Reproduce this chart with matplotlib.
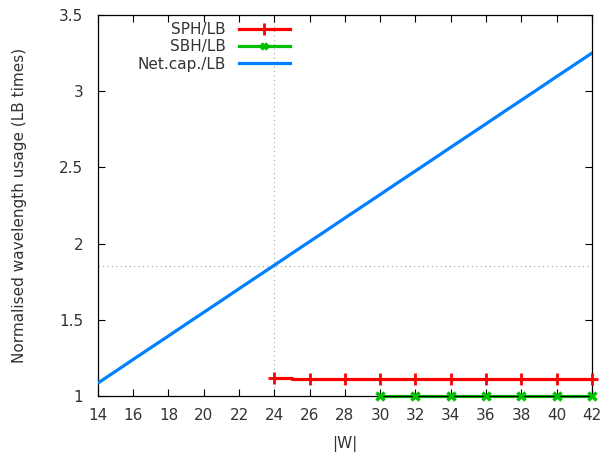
import numpy as np
import matplotlib
matplotlib.use("Agg")
import matplotlib.pyplot as plt
from matplotlib.lines import Line2D

# |W| values and ratios
net_x = list(range(14, 43))
net_y = [1.085, 1.162, 1.240, 1.317, 1.394, 1.472, 1.549, 1.626, 1.704, 1.781,
         1.858, 1.936, 2.013, 2.090, 2.168, 2.245, 2.322, 2.400, 2.477, 2.554,
         2.632, 2.709, 2.786, 2.864, 2.941, 3.018, 3.096, 3.173, 3.250]

sph_x = [24, 25, 25, 26, 27, 28, 29, 30, 31, 32, 33, 34, 35, 36, 37, 38, 39, 40, 41, 42]
sph_y = [1.118, 1.118, 1.110, 1.110, 1.110, 1.110, 1.110, 1.110, 1.110, 1.110,
         1.110, 1.110, 1.110, 1.110, 1.110, 1.110, 1.110, 1.110, 1.110, 1.110]
sph_mx = [24, 26, 28, 30, 32, 34, 36, 38, 40, 42]
sph_my = [1.118, 1.110, 1.110, 1.110, 1.110, 1.110, 1.110, 1.110, 1.110, 1.110]

sbh_x = [30, 32, 34, 36, 38, 40, 42]
sbh_y = [1.0, 1.0, 1.0, 1.0, 1.0, 1.0, 1.0]

ref_x = 24
ref_y = 1.853

xticks = list(range(14, 43, 2))
yticks = [1, 1.5, 2, 2.5, 3, 3.5]

red = "#ff0000"
green = "#00c000"
blue = "#0080ff"
txt = "#333333"

plt.rcParams['font.family'] = ['DejaVu Sans']
fig = plt.figure(figsize=(6.12, 4.57), dpi=100)
ax = fig.add_axes([0.160, 0.1335, 0.807, 0.8335])

ax.axvline(ref_x, color="#a0a0a0", linestyle=(0, (1, 3)), linewidth=0.8, zorder=1)
ax.axhline(ref_y, color="#a0a0a0", linestyle=(0, (1, 3)), linewidth=0.8, zorder=1)

ax.plot(sph_x, sph_y, color=red, linewidth=2.3, zorder=3, clip_on=False)
ax.plot(sph_mx, sph_my, linestyle="none", marker="+", markersize=9,
        markeredgewidth=2, color=red, zorder=4, clip_on=False)
ax.plot(sbh_x, sbh_y, color=green, linewidth=2.3, zorder=2, clip_on=False)
ax.plot(sbh_x, sbh_y, linestyle="none", marker="x", markersize=6,
        markeredgewidth=2.5, color=green, zorder=4, clip_on=False)
ax.plot(net_x, net_y, color=blue, linewidth=2.3, zorder=3)

ax.set_xlim(14, 42)
ax.set_ylim(1, 3.5)
ax.set_xticks(xticks)
ax.set_yticks(yticks)
ax.set_yticklabels(["1", "1.5", "2", "2.5", "3", "3.5"])
ax.tick_params(direction="in", top=True, right=True, length=5, width=0.8,
               labelsize=11, colors="black")
ax.tick_params(axis="y", pad=10.5)
ax.tick_params(axis="x", pad=9)
for lab in ax.get_xticklabels() + ax.get_yticklabels():
    lab.set_color(txt)
for s in ax.spines.values():
    s.set_linewidth(0.9)

ax.set_xlabel("|W|", fontsize=11, color=txt, labelpad=9)
ax.set_ylabel("Normalised wavelength usage (LB times)", fontsize=11,
              color=txt, labelpad=23)

handles = [
    Line2D([], [], color=red, linewidth=2.3, marker="+", markersize=8, markeredgewidth=2),
    Line2D([], [], color=green, linewidth=2.3, marker="x", markersize=5, markeredgewidth=2.5),
    Line2D([], [], color=blue, linewidth=2.3),
]
leg = ax.legend(handles, ["SPH/LB", "SBH/LB", "Net.cap./LB"], loc="upper right",
                bbox_to_anchor=(290 / 612, (457 - 22) / 457),
                bbox_transform=fig.transFigure, borderpad=0, borderaxespad=0,
                frameon=False, markerfirst=False, numpoints=1,
                handlelength=3.35, handletextpad=0.85,
                labelspacing=0.15, fontsize=11)
for t in leg.get_texts():
    t.set_color(txt)

fig.savefig("out.png", dpi=100)
